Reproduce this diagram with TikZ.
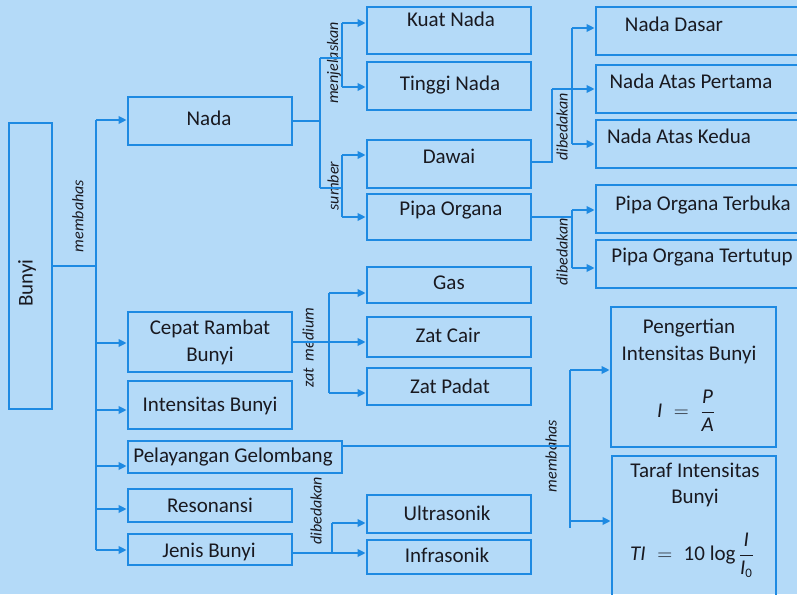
\documentclass[tikz,border=0pt]{standalone}
\usepackage{fontspec}
\setmainfont{Carlito}
\usetikzlibrary{arrows.meta}
\definecolor{bg}{RGB}{180,218,248}
\definecolor{ln}{RGB}{30,138,226}
\definecolor{tx}{RGB}{25,25,32}
\tikzset{
  box/.style={draw=ln, line width=2.8pt, inner sep=0pt, rectangle},
  conn/.style={draw=ln, line width=2.8pt},
  arr/.style={conn, -{Triangle[length=8pt,width=7.5pt]}},
  txt/.style={text=tx, font=\fontsize{21}{25}\selectfont, inner sep=0pt, anchor=base},
  lbl/.style={text=tx, font=\fontsize{16}{18}\selectfont\itshape, inner sep=0pt, rotate=90},
}
\newcommand\mybox[5]{\node[box, minimum width={#4-#2}, minimum height={#5-#3}] (#1) at ({(#2+#4)/2},{(#3+#5)/2}) {};}
\begin{document}
\begin{tikzpicture}[x=1pt,y=-1pt]
\useasboundingbox (0,0) rectangle (797,594);
\fill[bg] (0,0) rectangle (797,594);
\clip (0,0) rectangle (797,594);

% boxes
\mybox{bunyi}{9}{123}{52}{409}
\mybox{nada}{128}{97}{292}{145}
\mybox{cepat}{128}{312}{292}{372}
\mybox{intens}{128}{381}{292}{429}
\mybox{pelay}{128}{441}{342}{473}
\mybox{reson}{128}{489}{292}{522}
\mybox{jenis}{128}{534}{292}{565}
\mybox{kuat}{367}{7}{531}{54}
\mybox{tinggi}{367}{62}{531}{110}
\mybox{dawai}{367}{140}{531}{188}
\mybox{pipa}{367}{194}{531}{240}
\mybox{gas}{367}{267}{531}{303}
\mybox{cair}{367}{317}{531}{357}
\mybox{padat}{367}{368}{531}{405}
\mybox{ultra}{367}{495}{531}{533}
\mybox{infra}{367}{540}{531}{574}
\mybox{dasar}{596}{7}{812}{55}
\mybox{pertama}{596}{65}{812}{113}
\mybox{kedua}{596}{120}{812}{168}
\mybox{terbuka}{596}{185}{812}{233}
\mybox{tertutup}{596}{240}{812}{288}
\mybox{pengert}{611}{307}{776}{447}
\mybox{taraf}{612}{456}{776}{620}

% texts
\node[txt, rotate=90, anchor=center] (bunyiT) at (27,283) {Bunyi};
\node[txt] (nadaT) at (209,125) {Nada};
\node[txt] (cepatT1) at (210,334) {Cepat Rambat};
\node[txt] (cepatT2) at (210,361) {Bunyi};
\node[txt] (intensT) at (210,411) {Intensitas Bunyi};
\node[txt] (pelayT) at (233,462) {Pelayangan Gelombang};
\node[txt] (resonT) at (210,512) {Resonansi};
\node[txt] (jenisT) at (209,557) {Jenis Bunyi};
\node[txt] (kuatT) at (451,27) {Kuat Nada};
\node[txt] (tinggiT) at (450,90) {Tinggi Nada};
\node[txt] (dawaiT) at (449,163) {Dawai};
\node[txt] (pipaT) at (451,215) {Pipa Organa};
\node[txt] (gasT) at (449,289) {Gas};
\node[txt] (cairT) at (448,342) {Zat Cair};
\node[txt] (padatT) at (450,393) {Zat Padat};
\node[txt] (ultraT) at (447,520) {Ultrasonik};
\node[txt] (infraT) at (447,562) {Infrasonik};
\node[txt] (dasarT) at (674,32) {Nada Dasar};
\node[txt] (pertamaT) at (691,88) {Nada Atas Pertama};
\node[txt] (keduaT) at (679,143) {Nada Atas Kedua};
\node[txt] (terbukaT) at (703,210) {Pipa Organa Terbuka};
\node[txt] (tertutupT) at (702,262) {Pipa Organa Tertutup};
\node[txt] (pengT1) at (689,333) {Pengertian};
\node[txt] (pengT2) at (689,360) {Intensitas Bunyi};
\node[txt, anchor=center] (pengF) at (686,411) {$\mbox{\itshape I} \;=\; \displaystyle\frac{\mbox{\itshape P}}{\mbox{\itshape A}}$};
\node[txt] (tarafT1) at (695,477) {Taraf Intensitas};
\node[txt] (tarafT2) at (695,503) {Bunyi};
\node[txt, anchor=center] (tarafF) at (692,555) {$\mbox{\itshape TI} \;=\; \mbox{10 log}\,\displaystyle\frac{\mbox{\itshape I}}{\mbox{\itshape I}_{\mbox{\fontsize{13}{13}\selectfont 0}}}$};

% labels
\node[lbl] (l1) at (78,216) {membahas};
\node[lbl] (l2) at (334,63) {menjelaskan};
\node[lbl] (l3) at (333,186) {sumber};
\node[lbl] (l4) at (562,127) {dibedakan};
\node[lbl] (l5) at (562,252) {dibedakan};
\node[lbl] (l6) at (308,348) {zat\ \ medium};
\node[lbl] (l7) at (551,456) {membahas};
\node[lbl] (l8) at (316,511) {dibedakan};

% Bunyi trunk
\coordinate (tr) at (96,266);
\draw[conn] (bunyi.east) -- (tr);
\draw[conn] (96,120) -- (96,550);
\draw[arr] (96,120) -- (nada.west |- 96,120);
\draw[arr] (96,343) -- (cepat.west |- 96,343);
\draw[arr] (96,410) -- (intens.west |- 96,410);
\draw[arr] (96,466) -- (pelay.west |- 96,466);
\draw[arr] (96,509) -- (reson.west |- 96,509);
\draw[arr] (96,550) -- (jenis.west |- 96,550);

% Nada
\draw[conn] (nada.east) -- (320,121);
\draw[conn] (320,58) -- (320,188);
\draw[conn] (320,58) -- (342,58);
\draw[conn] (342,23) -- (342,87);
\draw[arr] (342,23) -- (kuat.west |- 342,23);
\draw[arr] (342,87) -- (tinggi.west |- 342,87);
\draw[conn] (320,188) -- (342,188);
\draw[conn] (342,155) -- (342,217);
\draw[arr] (342,155) -- (dawai.west |- 342,155);
\draw[arr] (342,217) -- (pipa.west |- 342,217);

% Dawai
\draw[conn] (dawai.east |- 531,162) -- (552,162) -- (552,89);
\draw[arr] (552,89) -- (pertama.west |- 552,89);
\draw[conn] (572,28) -- (572,144);
\draw[arr] (572,28) -- (dasar.west |- 572,28);
\draw[arr] (572,144) -- (kedua.west |- 572,144);

% Pipa Organa
\draw[conn] (pipa.east |- 531,217) -- (572,217);
\draw[conn] (572,210) -- (572,268);
\draw[arr] (572,210) -- (terbuka.west |- 572,210);
\draw[arr] (572,268) -- (tertutup.west |- 572,268);

% Cepat rambat
\draw[arr] (cepat.east |- 292,342) -- (cair.west |- 292,342);
\draw[conn] (329,293) -- (329,393);
\draw[arr] (329,293) -- (gas.west |- 329,293);
\draw[arr] (329,393) -- (padat.west |- 329,393);

% Pelayangan
\draw[conn] (pelay.east |- 342,446) -- (570,446);
\draw[conn] (570,370) -- (570,528);
\draw[arr] (570,370) -- (pengert.west |- 570,370);
\draw[arr] (570,521) -- (taraf.west |- 570,521);

% Jenis bunyi
\draw[conn] (jenis.east |- 292,553) -- (332,553);
\draw[conn] (332,523) -- (332,553);
\draw[arr] (332,523) -- (ultra.west |- 332,523);
\draw[arr] (332,553) -- (infra.west |- 332,553);
\end{tikzpicture}
\end{document}
